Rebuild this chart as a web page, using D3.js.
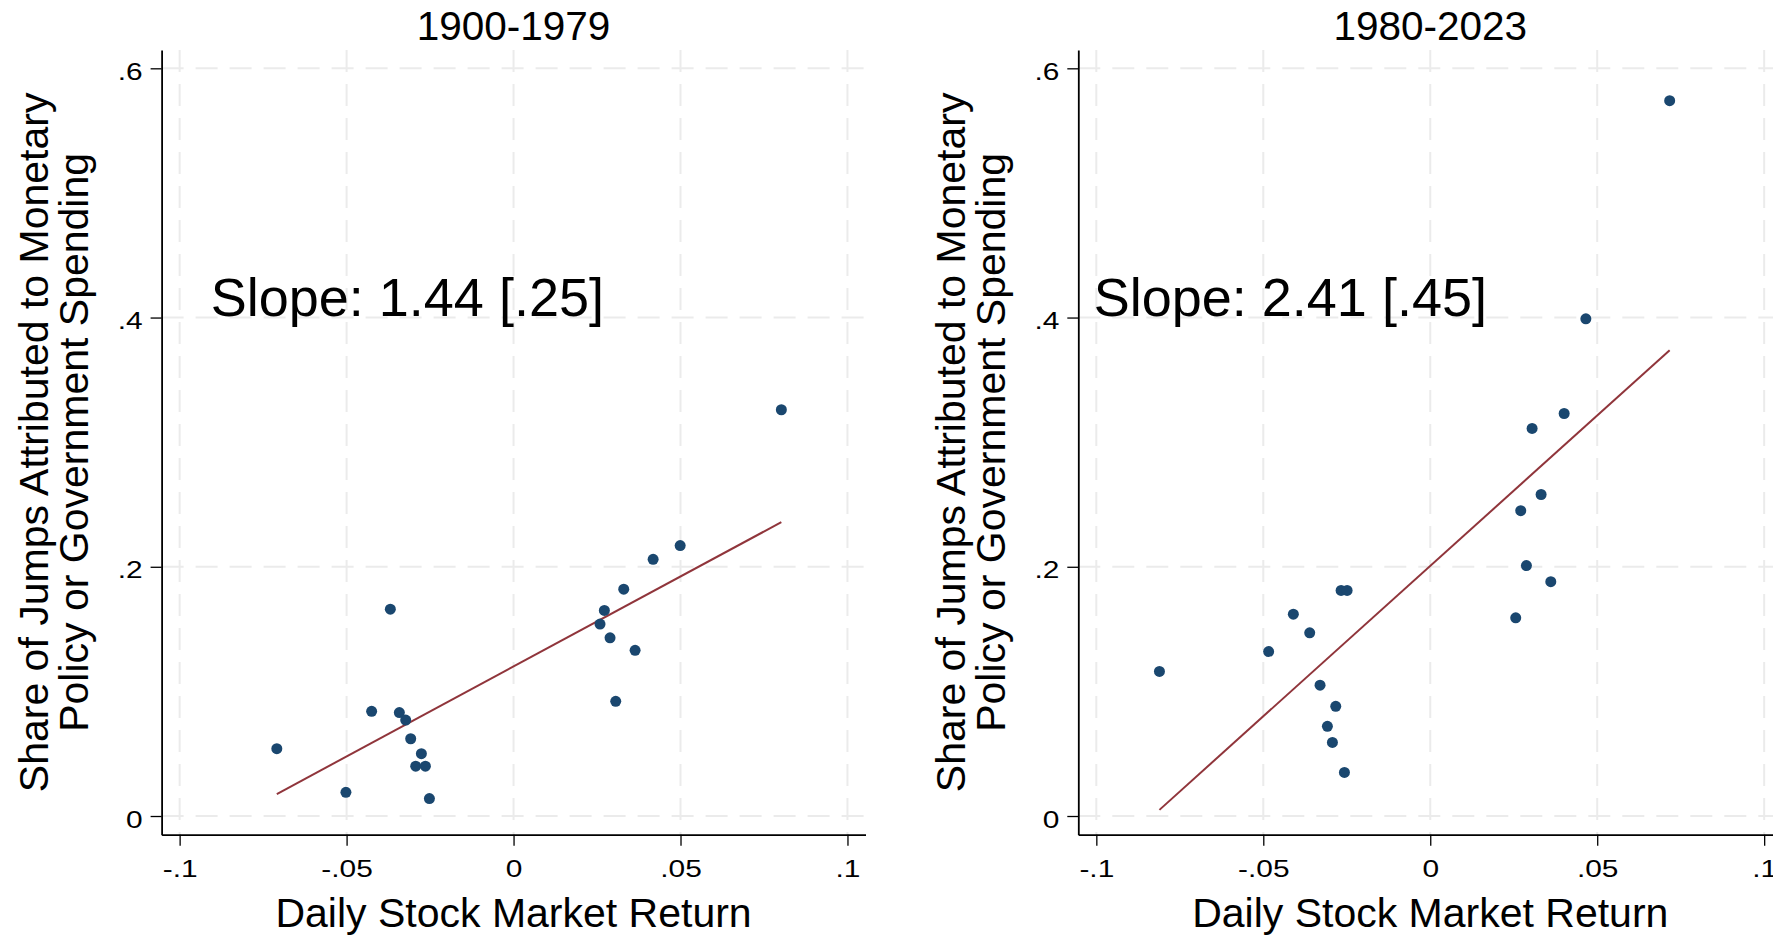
<!DOCTYPE html>
<html>
<head>
<meta charset="utf-8">
<script src="https://cdn.jsdelivr.net/npm/d3@7"></script>
<style>
    body { margin: 0; background: #fff; }
    text { font-family: "Liberation Sans", Arial, sans-serif; fill: #000; }
</style>
</head>
<body>
<div id="chart"></div>
<script>
// values
const periods = ["1900-1979", "1980-2023"];
const slopeLabels = ["Slope: 1.44 [.25]", "Slope: 2.41 [.45]"];

const xTicks = [-0.1, -0.05, 0, 0.05, 0.1];
const xTickLabels = ["-.1", "-.05", "0", ".05", ".1"];
const yTicks = [0, 0.2, 0.4, 0.6];
const yTickLabels = ["0", ".2", ".4", ".6"];

const returnsEarly = [-0.0709, -0.0502, -0.0425, -0.0369, -0.0342, -0.0323, -0.0308, -0.0276, -0.0293, -0.0264,
    -0.0252, 0.0259, 0.0272, 0.0289, 0.0306, 0.0330, 0.0364, 0.0418, 0.0499, 0.0802];
const shareEarly = [0.054, 0.019, 0.084, 0.166, 0.083, 0.077, 0.062, 0.050, 0.040, 0.040,
    0.014, 0.154, 0.165, 0.143, 0.092, 0.182, 0.133, 0.206, 0.217, 0.326];

const returnsLate = [-0.0811, -0.0484, -0.0410, -0.0361, -0.0330, -0.0283, -0.0308, -0.0293, -0.0257, -0.0267,
    -0.0249, 0.0256, 0.0271, 0.0288, 0.0332, 0.0361, 0.0305, 0.0401, 0.0466, 0.0717];
const shareLate = [0.116, 0.132, 0.162, 0.147, 0.105, 0.088, 0.072, 0.059, 0.035, 0.181,
    0.181, 0.159, 0.245, 0.201, 0.258, 0.188, 0.311, 0.323, 0.399, 0.574];

// fitted lines (intercept, slope)
const fitIntercepts = [0.120, 0.2007];
const fitSlopes = [1.444, 2.414];

const width = 1773, height = 938;
const navy = '#1a476f';
const maroon = '#90353b';
const gridColor = '#ebebeb';
const tickStretch = 1.3; // stata draws the tick labels a bit wide

const svg = d3.select('#chart')
    .append('svg')
    .attr('width', width)
    .attr('height', height);

svg.append('rect')
    .attr('width', width)
    .attr('height', height)
    .attr('fill', 'white');

const panels = [
    { left: 161.6, xs: returnsEarly, ys: shareEarly, labelX: -0.0907 },
    { left: 1078.3, xs: returnsLate, ys: shareLate, labelX: -0.1008 }
];

const plotWidth = 703.9;
const plotTop = 50, plotBottom = 834.7;

// y is shared by both panels
const y = d3.scaleLinear()
    .domain([-0.015, 0.6147])
    .range([plotBottom, plotTop]);

panels.forEach((p, i) => {
    const x = d3.scaleLinear()
        .domain([-0.1054, 0.1054])
        .range([p.left, p.left + plotWidth]);

    const g = svg.append('g');

    // grid lines
    g.append('g')
        .selectAll('line')
        .data(xTicks)
        .enter()
        .append('line')
        .attr('x1', d => x(d))
        .attr('x2', d => x(d))
        .attr('y1', plotTop)
        .attr('y2', plotBottom)
        .attr('stroke', gridColor)
        .attr('stroke-width', 2)
        .attr('stroke-dasharray', '22,12');

    g.append('g')
        .selectAll('line')
        .data(yTicks)
        .enter()
        .append('line')
        .attr('x1', p.left)
        .attr('x2', p.left + plotWidth)
        .attr('y1', d => y(d))
        .attr('y2', d => y(d))
        .attr('stroke', gridColor)
        .attr('stroke-width', 2)
        .attr('stroke-dasharray', '22,12');

    // axes
    const xAxis = d3.axisBottom(x)
        .tickValues(xTicks)
        .tickFormat((d, j) => xTickLabels[j])
        .tickSize(11)
        .tickSizeOuter(0);

    const yAxis = d3.axisLeft(y)
        .tickValues(yTicks)
        .tickFormat((d, j) => yTickLabels[j])
        .tickSize(11)
        .tickSizeOuter(0);

    const gx = g.append('g')
        .attr('transform', `translate(0,${plotBottom})`)
        .call(xAxis);

    const gy = g.append('g')
        .attr('transform', `translate(${p.left},0)`)
        .call(yAxis);

    [gx, gy].forEach(a => {
        a.select('.domain').attr('stroke', '#000').attr('stroke-width', 1.8);
        a.selectAll('.tick line').attr('stroke', '#000').attr('stroke-width', 1.3);
        a.selectAll('.tick text')
            .attr('font-size', 23)
            .attr('font-family', '"Liberation Sans", Arial, sans-serif')
            .attr('fill', '#000')
            .attr('transform', `scale(${tickStretch},1)`);
    });
    gx.selectAll('.tick text').attr('y', 42.6).attr('dy', 0);
    gy.selectAll('.tick text').attr('x', -18.9 / tickStretch).attr('dy', 11);

    // fitted line over the range of the data
    const ext = d3.extent(p.xs);
    const fit = ext.map(v => [v, fitIntercepts[i] + fitSlopes[i] * v]);

    g.append('path')
        .attr('d', d3.line().x(d => x(d[0])).y(d => y(d[1]))(fit))
        .attr('stroke', maroon)
        .attr('stroke-width', 2)
        .attr('fill', 'none');

    // markers
    g.append('g')
        .selectAll('circle')
        .data(p.xs.map((v, j) => [v, p.ys[j]]))
        .enter()
        .append('circle')
        .attr('cx', d => x(d[0]))
        .attr('cy', d => y(d[1]))
        .attr('r', 5.5)
        .attr('fill', navy);

    // texts
    const cx = p.left + plotWidth / 2;

    g.append('text')
        .attr('x', cx)
        .attr('y', 39.5)
        .attr('text-anchor', 'middle')
        .attr('font-size', 40.5)
        .text(periods[i]);

    g.append('text')
        .attr('x', x(p.labelX))
        .attr('y', y(0.4) - 2)
        .attr('font-size', 54)
        .text(slopeLabels[i]);

    g.append('text')
        .attr('x', cx)
        .attr('y', 927)
        .attr('text-anchor', 'middle')
        .attr('font-size', 41)
        .text('Daily Stock Market Return');

    const yl = g.append('text')
        .attr('transform', `translate(${p.left - 113.6},${(plotTop + plotBottom) / 2}) rotate(-90)`)
        .attr('text-anchor', 'middle')
        .attr('font-size', 41);
    yl.append('tspan').attr('x', 0).attr('y', 0).text('Share of Jumps Attributed to Monetary');
    yl.append('tspan').attr('x', 0).attr('y', 40.3).text('Policy or Government Spending');
});
</script>
</body>
</html>
